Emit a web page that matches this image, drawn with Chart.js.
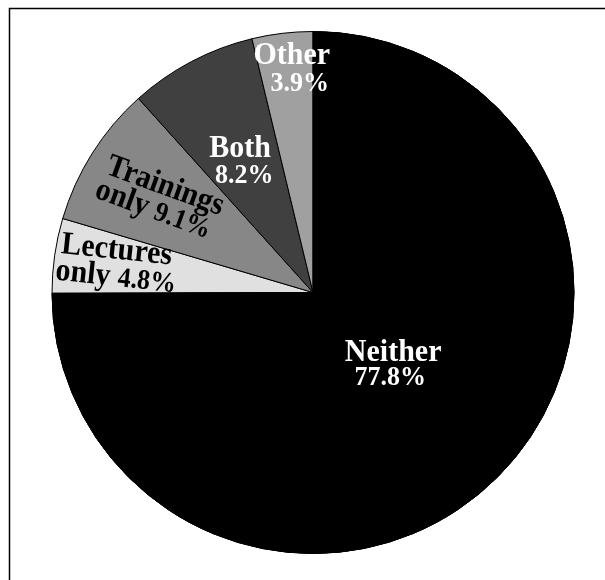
<!DOCTYPE html>
<html>
<head>
<meta charset="utf-8">
<script src="https://cdn.jsdelivr.net/npm/chart.js@4"></script>
<style>
  html, body { margin: 0; padding: 0; background: #ffffff; }
  #wrap { position: relative; width: 605px; height: 580px; }
</style>
</head>
<body>
<div id="wrap"><canvas id="c" width="605" height="580"></canvas></div>
<script>
// ---- Data ----
const categories = ['Neither', 'Lectures only', 'Trainings only', 'Both', 'Other'];
const values = [77.8, 4.8, 9.1, 8.2, 3.9];
const sliceColors = ['#000000', '#e0e0e0', '#878787', '#404040', '#a0a0a0'];
// label text: first line, prefix for second line (followed by the value + '%')
const labelFirstLine = ['Neither', 'Lectures', 'Trainings', 'Both', 'Other'];
const labelSecondPrefix = ['', 'only ', 'only ', '', ''];
const labelColors = ['#ffffff', '#000000', '#000000', '#ffffff', '#ffffff'];

// ---- Label layout (relative to each slice) ----
const labelLayout = [
  { r: 0.436, da: 0.3,  rot: 0,  gap: 24, dx2: -3 },
  { r: 0.765, da: -2.3, rot: 6,  gap: 27, dx2: 2 },
  { r: 0.68,  da: -3.3, rot: 20, gap: 26, dx2: -3 },
  { r: 0.546, da: -3.0, rot: 0,  gap: 26, dx2: 4 },
  { r: 0.826, da: 1.1,  rot: 0,  gap: 27, dx2: 8 }
];
const FONT_FAMILY = '"Liberation Serif", "Times New Roman", serif';
const BIG = 30, SMALL = 26, YSCALE = 1.08;

const framePlugin = {
  id: 'frame',
  beforeDraw(chart) {
    const ctx = chart.ctx;
    ctx.save();
    ctx.strokeStyle = '#000000';
    ctx.lineWidth = 1.5;
    ctx.beginPath();
    ctx.moveTo(605, 8.5);
    ctx.lineTo(9.5, 8.5);
    ctx.lineTo(9.5, 580);
    ctx.stroke();
    ctx.restore();
  }
};

const labelPlugin = {
  id: 'sliceLabels',
  afterDatasetsDraw(chart) {
    const ctx = chart.ctx;
    const meta = chart.getDatasetMeta(0);
    const drawLabel = (i) => {
      const arc = meta.data[i];
      const p = arc.getProps(['x', 'y', 'startAngle', 'endAngle', 'outerRadius'], true);
      const L = labelLayout[i];
      const mid = (p.startAngle + p.endAngle) / 2 + L.da * Math.PI / 180;
      const rr = p.outerRadius * L.r;
      const ax = p.x + Math.cos(mid) * rr;
      const ay = p.y + Math.sin(mid) * rr;
      const lines = [
        [{ t: labelFirstLine[i], s: BIG }],
        labelSecondPrefix[i]
          ? [{ t: labelSecondPrefix[i], s: BIG }, { t: values[i].toFixed(1) + '%', s: SMALL }]
          : [{ t: values[i].toFixed(1) + '%', s: SMALL }]
      ];
      ctx.save();
      ctx.translate(ax, ay);
      ctx.rotate(L.rot * Math.PI / 180);
      ctx.fillStyle = labelColors[i];
      ctx.textBaseline = 'alphabetic';
      ctx.textAlign = 'left';
      lines.forEach((segs, k) => {
        const y = (k - (lines.length - 1) / 2) * L.gap;
        let total = 0;
        const widths = segs.map(sg => {
          ctx.font = 'bold ' + sg.s + 'px ' + FONT_FAMILY;
          const w = ctx.measureText(sg.t).width;
          total += w;
          return w;
        });
        let x = -total / 2 + (k === 1 ? L.dx2 : 0);
        segs.forEach((sg, j) => {
          ctx.font = 'bold ' + sg.s + 'px ' + FONT_FAMILY;
          ctx.save();
          ctx.translate(x, y);
          ctx.scale(1, YSCALE);
          ctx.fillText(sg.t, 0, 0);
          ctx.restore();
          x += widths[j];
        });
      });
      ctx.restore();
    };
    drawLabel(1);
    meta.data[0].draw(ctx);
    [2, 3, 4, 0].forEach(drawLabel);
  }
};

new Chart(document.getElementById('c'), {
  type: 'pie',
  data: {
    labels: categories,
    datasets: [{
      data: values,
      backgroundColor: sliceColors,
      borderColor: '#000000',
      borderWidth: 1
    }]
  },
  options: {
    responsive: false,
    animation: false,
    layout: { padding: { top: 31, bottom: 26, left: 51, right: 30 } },
    plugins: {
      legend: { display: false },
      tooltip: { enabled: false },
      title: { display: false }
    }
  },
  plugins: [framePlugin, labelPlugin]
});
</script>
</body>
</html>
